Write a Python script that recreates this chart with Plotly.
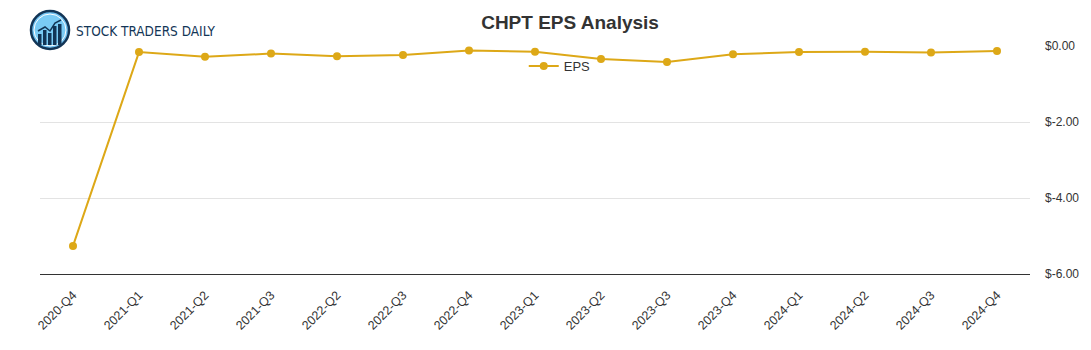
import plotly.graph_objects as go

quarters = ["2020-Q4", "2021-Q1", "2021-Q2", "2021-Q3", "2022-Q2", "2022-Q3", "2022-Q4",
            "2023-Q1", "2023-Q2", "2023-Q3", "2023-Q4", "2024-Q1", "2024-Q2", "2024-Q3", "2024-Q4"]
eps = [-5.26, -0.16, -0.28, -0.20, -0.27, -0.24, -0.12, -0.15, -0.34, -0.42, -0.22, -0.16, -0.15, -0.17, -0.13]
y_ticks = [0, -2, -4, -6]
y_tick_labels = ["$0.00", "$-2.00", "$-4.00", "$-6.00"]

W, H = 1091, 350
L, R, T, B = 40, 61, 46, 76
PW, PH = W - L - R, H - T - B

def px(x):
    return (x - L) / PW

def py(y):
    return (H - B - y) / PH

GOLD = "#DDA817"
FONT = "Liberation Sans, Arial, sans-serif"

fig = go.Figure()
fig.add_trace(go.Scatter(
    x=quarters, y=eps, mode="lines+markers", name="EPS",
    line=dict(color=GOLD, width=2),
    marker=dict(color=GOLD, size=8),
))

shapes = []
# logo circle
shapes.append(dict(type="circle", xref="paper", yref="paper",
                   x0=px(31), x1=px(69), y0=py(49), y1=py(11),
                   line=dict(color="#123556", width=2.5),
                   fillcolor="#6FC0F0", layer="above"))
shapes.append(dict(type="circle", xref="paper", yref="paper",
                   x0=px(34), x1=px(66), y0=py(46), y1=py(14),
                   line=dict(color="white", width=1),
                   fillcolor="#7ACBF5", layer="above"))
for bx, top in [(38, 34), (43, 30), (48, 33), (53, 26), (58, 24)]:
    shapes.append(dict(type="rect", xref="paper", yref="paper",
                       x0=px(bx), x1=px(bx + 3.5), y0=py(45), y1=py(top),
                       line=dict(width=0), fillcolor="#123556", layer="above"))
shapes.append(dict(type="path", xref="paper", yref="paper",
                   path=f"M {px(38)},{py(31)} L {px(45)},{py(27)} L {px(50)},{py(31)} L {px(55)},{py(23)} L {px(61)},{py(20)}",
                   line=dict(color="#123556", width=1.5), layer="above"))

fig.update_layout(
    width=W, height=H,
    margin=dict(l=L, r=R, t=T, b=B),
    paper_bgcolor="white", plot_bgcolor="white",
    font=dict(family=FONT, size=12, color="#333333"),
    title=dict(text="<b>CHPT EPS Analysis</b>", x=0.5225, xanchor="center",
               y=1 - 22 / H, yanchor="middle",
               font=dict(family=FONT, size=19, color="#333333")),
    showlegend=True,
    legend=dict(orientation="h", x=0.525, xanchor="center", y=py(66), yanchor="middle",
                font=dict(family=FONT, size=13, color="#333333"),
                bgcolor="rgba(0,0,0,0)", itemwidth=30),
    xaxis=dict(type="category", range=[-0.5, len(quarters) - 0.5],
               tickangle=-45, showgrid=False, showline=True,
               linecolor="#333333", linewidth=1,
               ticks="outside", ticklen=8, tickcolor="rgba(0,0,0,0)",
               tickfont=dict(family=FONT, size=12.5, color="#333333"),
               zeroline=False, fixedrange=True),
    yaxis=dict(range=[-6, 0], side="right", tickvals=y_ticks, ticktext=y_tick_labels,
               showgrid=True, gridcolor="#e3e3e3", gridwidth=1, zeroline=False,
               showline=False, ticks="", ticklabelstandoff=14,
               tickfont=dict(family=FONT, size=12, color="#333333"), fixedrange=True),
    shapes=shapes,
    annotations=[dict(text="STOCK TRADERS DAILY", xref="paper", yref="paper",
                      x=px(74), y=py(31), xanchor="left", yanchor="middle", showarrow=False,
                      font=dict(family="DejaVu Sans Condensed, Liberation Sans Narrow, Roboto, sans-serif",
                                size=13.5, color="#123556", weight=500))],
)

fig.write_html("out.html")
